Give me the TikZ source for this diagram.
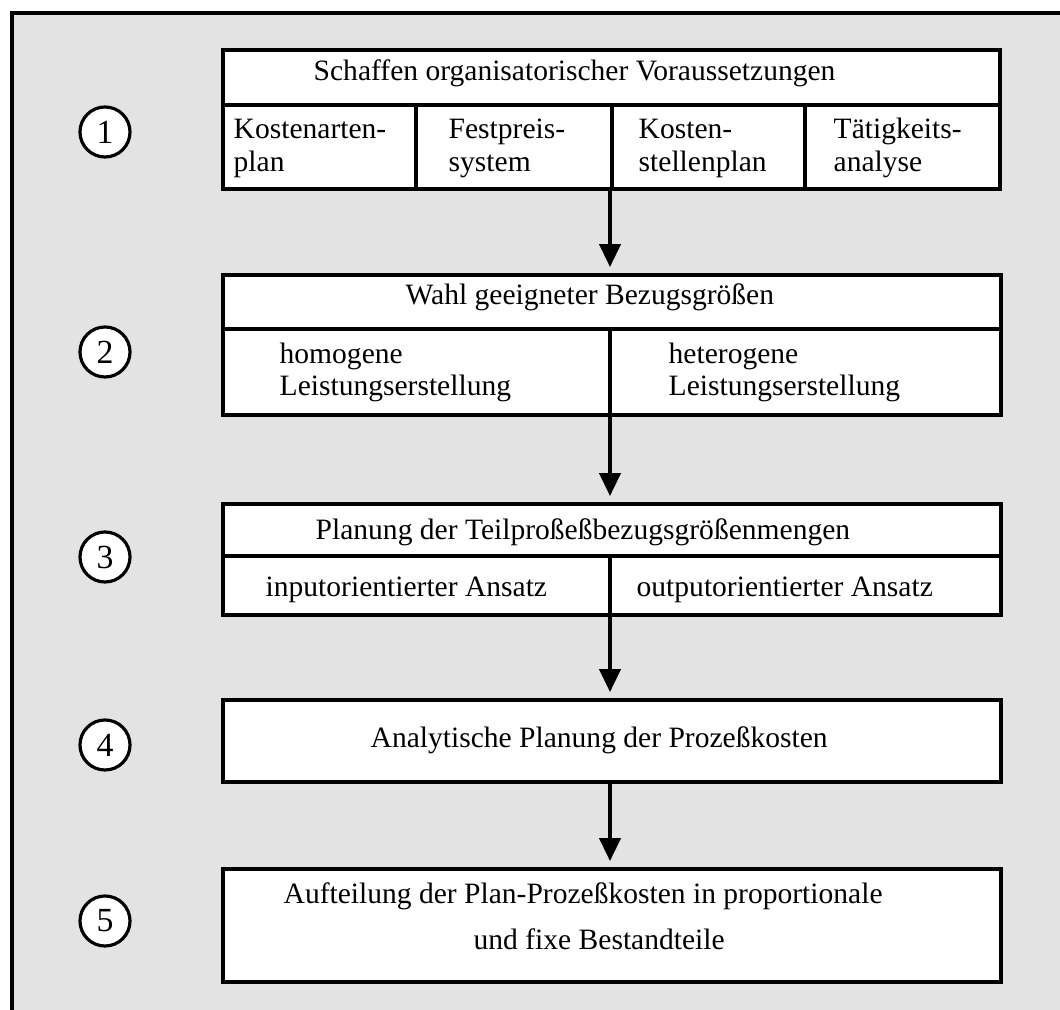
\documentclass[tikz,border=0pt]{standalone}
\usepackage{fontspec}
\setmainfont{Liberation Serif}
\usetikzlibrary{arrows.meta}
\definecolor{bg}{HTML}{E3E3E3}
\begin{document}
\begin{tikzpicture}[x=0.01cm,y=-0.01cm,
  box/.style={draw, line width=1.1pt, fill=white, inner sep=0, anchor=north west},
  sep/.style={line width=1.1pt},
  num/.style={draw, circle, line width=0.9pt, fill=white, minimum size=0.5cm, inner sep=0, font=\fontsize{9.6}{10}\selectfont},
  txt/.style={inner sep=0, anchor=base west, font=\fontsize{8.4}{10}\selectfont},
  flow/.style={-{Triangle[width=6pt,length=6.5pt]}, line width=1pt, shorten >=1.7pt}
]
\useasboundingbox (0,0) rectangle (1060,1010);
\fill[bg] (12,13) rectangle (1060,1010);
\draw[line width=1.2pt] (12,1010) -- (12,13) -- (1060,13);

% numbers
\node[num] (n1) at (105,132) {1};
\node[num] (n2) at (105,352) {2};
\node[num] (n3) at (105,557) {3};
\node[num] (n4) at (105,745) {4};
\node[num] (n5) at (105,921) {5};

% box 1
\node[box, minimum width=7.77cm, minimum height=1.39cm] (b1) at (221,48) {};
\draw[sep] (221,105) -- (998,105);
\draw[sep] (416,105) -- (416,187);
\draw[sep] (612,105) -- (612,187);
\draw[sep] (805,105) -- (805,187);
\node[txt] (t1) at (313,81) {Schaffen organisatorischer Voraussetzungen};
\node[txt] (c11a) at (233,139) {Kostenarten-};
\node[txt] (c11b) at (233,172) {plan};
\node[txt] (c12a) at (448,139) {Festpreis-};
\node[txt] (c12b) at (448,172) {system};
\node[txt] (c13a) at (638,139) {Kosten-};
\node[txt] (c13b) at (638,172) {stellenplan};
\node[txt] (c14a) at (833,139) {Tätigkeits-};
\node[txt] (c14b) at (833,172) {analyse};

% box 2
\node[box, minimum width=7.78cm, minimum height=1.40cm] (b2) at (221,273) {};
\draw[sep] (221,329) -- (999,329);
\draw[sep] (610,329) -- (610,413);
\node[txt] (t2) at (405,305) {Wahl geeigneter Bezugsgrößen};
\node[txt] (c21a) at (279,364) {homogene};
\node[txt] (c21b) at (279,396) {Leistungserstellung};
\node[txt] (c22a) at (668,364) {heterogene};
\node[txt] (c22b) at (668,396) {Leistungserstellung};

% box 3
\node[box, minimum width=7.78cm, minimum height=1.11cm] (b3) at (221,502) {};
\draw[sep] (221,556) -- (999,556);
\draw[sep] (610,556) -- (610,613);
\node[txt] (t3) at (315,540) {Planung der Teilproßeßbezugsgrößenmengen};
\node[txt] (c31) at (265,597) {inputorientierter Ansatz};
\node[txt] (c32) at (636,597) {outputorientierter Ansatz};

% box 4
\node[box, minimum width=7.78cm, minimum height=0.82cm] (b4) at (221,698) {};
\node[txt] (t4) at (370,748) {Analytische Planung der Prozeßkosten};

% box 5
\node[box, minimum width=7.78cm, minimum height=1.13cm] (b5) at (221,867) {};
\node[txt] (t5a) at (283,904) {Aufteilung der Plan-Prozeßkosten in proportionale};
\node[txt] (t5b) at (473,950) {und fixe Bestandteile};

% arrows
\draw[flow] (b1.south -| 610,0) -- (b2.north -| 610,0);
\draw[flow] (b2.south -| 610,0) -- (b3.north -| 610,0);
\draw[flow] (b3.south -| 610,0) -- (b4.north -| 610,0);
\draw[flow] (b4.south -| 610,0) -- (b5.north -| 610,0);
\end{tikzpicture}
\end{document}
